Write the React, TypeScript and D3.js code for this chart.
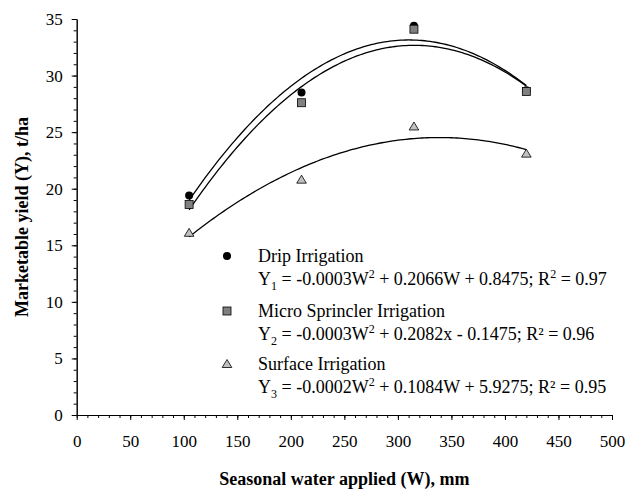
import React, { useEffect, useRef } from "react";
import * as d3 from "d3";

// water applied (mm) and marketable yield (t/ha)
const waterApplied = [105, 210, 315, 420];
const dripYield = [19.4, 28.5, 34.4, 28.7];
const microYield = [18.6, 27.6, 34.1, 28.6];
const surfaceYield = [16.1, 20.8, 25.5, 23.1];

const seriesNames = ["Drip Irrigation", "Micro Sprincler Irrigation", "Surface Irrigation"];
const equations = [
  "Y_1 = -0.0003W^2 + 0.2066W + 0.8475; R^2 = 0.97",
  "Y_2 = -0.0003W^2 + 0.2082x - 0.1475; R² = 0.96",
  "Y_3 = -0.0002W^2 + 0.1084W + 5.9275; R² = 0.95",
];

const xMajorTicks = [0, 50, 100, 150, 200, 250, 300, 350, 400, 450, 500];
const yMajorTicks = [0, 5, 10, 15, 20, 25, 30, 35];

const FONT = "'Liberation Serif', 'Times New Roman', serif";
const width = 636;
const height = 490;
const margin = { top: 19, right: 24, bottom: 75, left: 76.7 };

// least squares 2nd order polynomial (trendline), returns [c0, c1, c2]
function quadFit(xs: number[], ys: number[]) {
  const s = (p: number) => d3.sum(xs, (x) => Math.pow(x, p));
  const t = (p: number) => d3.sum(xs, (x, i) => Math.pow(x, p) * ys[i]);
  const A = [
    [s(0), s(1), s(2), t(0)],
    [s(1), s(2), s(3), t(1)],
    [s(2), s(3), s(4), t(2)],
  ];
  for (let i = 0; i < 3; i++) {
    for (let k = i + 1; k < 3; k++) {
      const f = A[k][i] / A[i][i];
      for (let j = i; j < 4; j++) A[k][j] -= f * A[i][j];
    }
  }
  const c = [0, 0, 0];
  for (let i = 2; i >= 0; i--) {
    let v = A[i][3];
    for (let j = i + 1; j < 3; j++) v -= A[i][j] * c[j];
    c[i] = v / A[i][i];
  }
  return c;
}

const Axis = ({ axis, transform, fontSize }: any) => {
  const ref = useRef<SVGGElement>(null);
  useEffect(() => {
    const g = d3.select(ref.current!);
    g.call(axis);
    g.attr("font-family", FONT).attr("font-size", fontSize || 0);
    g.selectAll("path, line").attr("stroke", "#000").attr("stroke-width", 1);
    g.selectAll("text").attr("fill", "#000");
  }, [axis]);
  return <g ref={ref} transform={transform} />;
};

const Equation = ({ text, x, y }: any) => {
  const parts = text.split(/([_^]\d)/).filter((p: string) => p.length);
  let shift = 0;
  return (
    <text x={x} y={y} fontFamily={FONT} fontSize={18} fill="#000">
      {parts.map((p: string, i: number) => {
        if (p[0] === "_" || p[0] === "^") {
          const d = p[0] === "_" ? 5 : -7;
          shift = -d;
          return (
            <tspan key={i} dy={d} fontSize={12}>
              {p.slice(1)}
            </tspan>
          );
        }
        const dy = shift;
        shift = 0;
        return (
          <tspan key={i} dy={dy}>
            {p}
          </tspan>
        );
      })}
    </text>
  );
};

const Marker = ({ kind, x, y }: any) => {
  if (kind === 0) return <circle cx={x} cy={y} r={4} fill="#000" />;
  if (kind === 1)
    return <rect x={x - 4} y={y - 4} width={8} height={8} fill="#808080" stroke="#000" strokeWidth={0.8} />;
  return (
    <path
      d={`M${x},${y - 4.5}L${x + 4.8},${y + 3.5}L${x - 4.8},${y + 3.5}Z`}
      fill="#c0c0c0"
      stroke="#000"
      strokeWidth={0.8}
    />
  );
};

export default function App() {
  const innerW = width - margin.left - margin.right;
  const innerH = height - margin.top - margin.bottom;
  const x = d3.scaleLinear().domain([0, 500]).range([0, innerW]);
  const y = d3.scaleLinear().domain([0, 35]).range([innerH, 0]);

  const allSeries = [dripYield, microYield, surfaceYield];

  // fitted polynomial trendlines over the measured range
  const curves = allSeries.map((ys) => {
    const c = quadFit(waterApplied, ys);
    const ws = d3.range(d3.min(waterApplied)!, d3.max(waterApplied)! + 0.01, 2.5);
    return d3
      .line<number>()
      .x((w) => x(w))
      .y((w) => y(c[0] + c[1] * w + c[2] * w * w))(ws);
  });

  const xMinor = d3.axisBottom(x).tickValues(d3.range(0, 501, 10)).tickSize(3).tickSizeOuter(0).tickFormat(() => "");
  const xMajor = d3.axisBottom(x).tickValues(xMajorTicks).tickSize(5).tickSizeOuter(0).tickPadding(15);
  const yMinor = d3.axisLeft(y).tickValues(d3.range(0, 36, 1)).tickSize(3).tickSizeOuter(0).tickFormat(() => "");
  const yMajor = d3.axisLeft(y).tickValues(yMajorTicks).tickSize(5).tickSizeOuter(0).tickPadding(9);

  const legendX = 227;
  const legendRows = [256, 311, 364];

  return (
    <svg width={width} height={height} style={{ position: "absolute", left: 0, top: 0, background: "#fff" }}>
      <g transform={`translate(${margin.left},${margin.top})`}>
        <Axis axis={xMinor} transform={`translate(0,${innerH})`} />
        <Axis axis={xMajor} transform={`translate(0,${innerH})`} fontSize={17} />
        <Axis axis={yMinor} />
        <Axis axis={yMajor} fontSize={17} />
        {curves.map((d, i) => (
          <path key={i} d={d || ""} fill="none" stroke="#000" strokeWidth={1.3} />
        ))}
        {allSeries.map((ys, k) =>
          ys.map((v, i) => <Marker key={`${k}-${i}`} kind={k} x={x(waterApplied[i])} y={y(v)} />)
        )}
      </g>
      {seriesNames.map((name, k) => (
        <g key={name}>
          <Marker kind={k} x={legendX} y={legendRows[k]} />
          <text x={258} y={legendRows[k] + 6} fontFamily={FONT} fontSize={18} fill="#000">
            {name}
          </text>
          <Equation text={equations[k]} x={258} y={legendRows[k] + 29} />
        </g>
      ))}
      <text
        x={margin.left + innerW / 2}
        y={485}
        textAnchor="middle"
        fontFamily={FONT}
        fontWeight="bold"
        fontSize={18}
      >
        Seasonal water applied (W), mm
      </text>
      <text
        transform={`translate(28,${margin.top + innerH / 2}) rotate(-90)`}
        textAnchor="middle"
        fontFamily={FONT}
        fontWeight="bold"
        fontSize={18}
      >
        Marketable yield (Y), t/ha
      </text>
    </svg>
  );
}
